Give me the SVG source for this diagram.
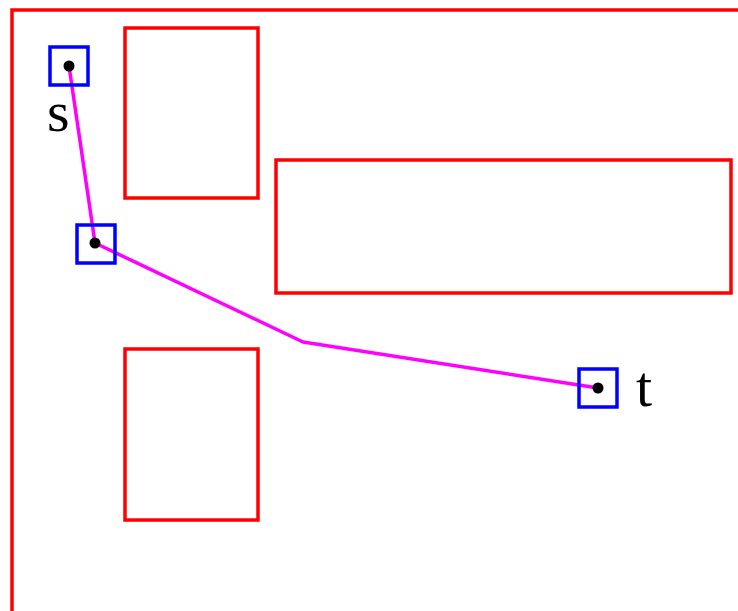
<svg xmlns="http://www.w3.org/2000/svg" width="738" height="611" viewBox="0 0 738 611">
<style>
.obs{fill:none;stroke:#ff0000;stroke-width:3.5}
.box{fill:none;stroke:#0000ff;stroke-width:3.5}
.dot{fill:#000}
.lbl{font-family:"Liberation Serif",serif;font-size:58px;fill:#000}
.path{fill:none;stroke:#ff00ff;stroke-width:3.5;stroke-linejoin:round}
</style>
<rect width="738" height="611" fill="#fff"/>
<g id="border"><polyline class="obs" points="12,611 12,10 738,10"/></g>
<g id="obstacle1"><rect class="obs" x="125" y="28" width="133" height="170"/></g>
<g id="obstacle2"><rect class="obs" x="276" y="160" width="455" height="133"/></g>
<g id="obstacle3"><rect class="obs" x="125" y="349" width="133" height="171"/></g>
<g id="connectors"><polyline class="path" points="69,66 95,243 303,342 598,388"/></g>
<g id="s"><rect class="box" x="50" y="47" width="38" height="38"/><circle class="dot" cx="69" cy="66" r="5.5"/><text class="lbl" x="47" y="131">s</text></g>
<g id="v"><rect class="box" x="77" y="225" width="38" height="38"/><circle class="dot" cx="95" cy="243" r="5.5"/></g>
<g id="t"><rect class="box" x="579" y="369" width="38" height="38"/><circle class="dot" cx="598" cy="388" r="5.5"/><text class="lbl" x="636" y="406">t</text></g>
</svg>
